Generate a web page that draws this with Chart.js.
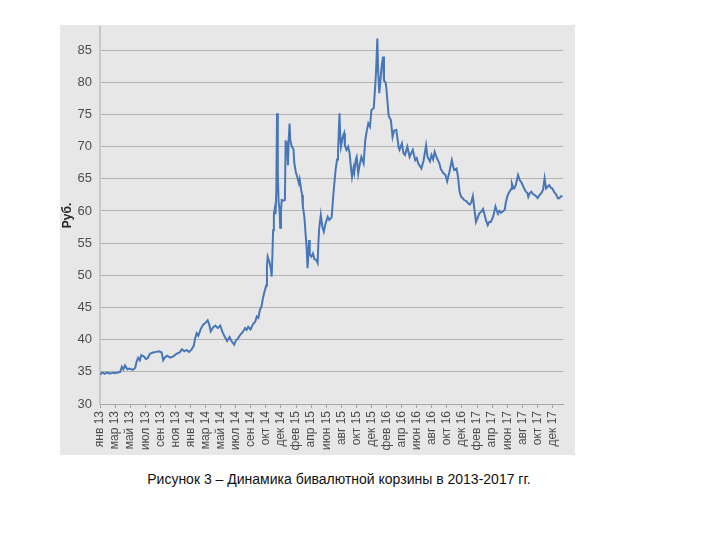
<!DOCTYPE html>
<html>
<head>
<meta charset="utf-8">
<script src="https://cdn.jsdelivr.net/npm/chart.js@4"></script>
<style>
  body { margin: 0; background: #fff; width: 720px; height: 540px; position: relative; font-family: "Liberation Sans", Arial, sans-serif; }
  #box { position: absolute; left: 60px; top: 25px; width: 515px; height: 430px; background: #e7e7e7; }
  #caption { position: absolute; left: 0; top: 469px; width: 678px; text-align: center; font-size: 14px; line-height: 20px; color: #111; }
</style>
</head>
<body>
<div id="box"><canvas id="chart" width="515" height="430"></canvas></div>
<div id="caption">Рисунок 3 – Динамика бивалютной корзины в 2013-2017 гг.</div>
<script>
// Axis labels (one per category step)
const xLabels = ['янв 13','мар 13','май 13','июл 13','сен 13','ноя 13','янв 14','мар 14','май 14','июл 14',
  'сен 14','окт 14','дек 14','фев 15','апр 15','июн 15','авг 15','окт 15','дек 15','фев 16',
  'апр 16','июн 16','авг 16','окт 16','дек 16','фев 17','апр 17','июн 17','авг 17','окт 17','дек 17'];

// Position along the axis, in label steps
const xPos = [0,0.16,0.31,0.47,0.67,0.83,0.98,1.19,1.34,1.45,1.55,1.66,1.81,1.97,2.17,2.33,2.43,2.53,2.64,2.74,
  2.90,3.05,3.16,3.31,3.52,3.72,3.93,4.09,4.19,4.29,4.45,4.65,4.86,5.07,5.28,5.43,5.59,5.74,5.90,6.05,
  6.21,6.31,6.41,6.52,6.67,6.83,6.98,7.14,7.24,7.34,7.50,7.65,7.81,7.97,8.12,8.28,8.43,8.59,8.74,8.90,
  9.00,9.15,9.31,9.47,9.62,9.72,9.83,9.98,10.14,10.29,10.40,10.50,10.60,10.71,10.81,10.91,11.02,11.07,11.12,11.22,
  11.33,11.38,11.43,11.48,11.53,11.59,11.64,11.69,11.74,11.79,11.84,11.90,11.95,12.00,12.05,12.15,12.26,12.31,12.36,12.41,
  12.46,12.52,12.57,12.62,12.72,12.83,12.88,12.98,13.09,13.19,13.24,13.34,13.40,13.45,13.55,13.60,13.71,13.76,13.81,13.86,
  13.91,14.02,14.12,14.22,14.33,14.43,14.48,14.53,14.64,14.74,14.84,14.95,15.10,15.21,15.36,15.46,15.52,15.62,15.72,15.78,
  15.83,15.88,15.93,15.98,16.09,16.19,16.24,16.34,16.45,16.55,16.65,16.71,16.81,16.86,16.96,17.02,17.12,17.22,17.33,17.48,
  17.59,17.69,17.79,17.90,18.00,18.15,18.26,18.31,18.39,18.44,18.52,18.62,18.67,18.77,18.83,18.93,18.98,19.09,19.14,19.29,
  19.40,19.50,19.65,19.71,19.81,19.86,20.02,20.12,20.22,20.38,20.53,20.64,20.74,20.90,21.00,21.10,21.31,21.46,21.62,21.72,
  21.88,21.98,22.09,22.19,22.34,22.50,22.60,22.76,22.91,23.02,23.17,23.33,23.43,23.48,23.64,23.74,23.84,23.95,24.05,24.15,
  24.31,24.41,24.52,24.62,24.72,24.83,24.93,25.03,25.14,25.29,25.40,25.50,25.60,25.71,25.81,25.91,26.07,26.22,26.33,26.38,
  26.48,26.58,26.74,26.84,26.90,27.00,27.10,27.15,27.26,27.31,27.41,27.46,27.57,27.62,27.72,27.83,27.93,28.03,28.14,28.24,
  28.34,28.40,28.50,28.60,28.71,28.81,28.91,29.02,29.12,29.27,29.38,29.48,29.58,29.69,29.79,29.90,30.00,30.10,30.26,30.36,
  30.46,30.57,30.67];

// Basket value, rub
const rub = [34.6,34.9,34.7,34.9,34.7,34.9,34.8,34.9,35.0,35.8,35.4,36.0,35.4,35.5,35.3,35.6,36.6,37.2,36.8,37.6,
  37.4,37.0,37.1,37.8,38.0,38.1,38.2,38.0,36.8,37.2,37.5,37.2,37.4,37.8,38.0,38.5,38.2,38.4,38.1,38.4,
  39.0,40.2,41.0,40.6,41.6,42.3,42.6,43.0,42.4,41.3,41.9,42.2,41.8,42.2,41.2,40.4,39.8,40.4,39.7,39.2,
  39.8,40.2,40.8,41.2,41.8,41.5,42.0,41.6,42.4,42.8,43.6,43.4,44.6,45.2,46.5,47.5,48.4,51.5,52.9,52.2,
  51.0,49.8,53.0,57.0,59.6,60.4,59.5,63.0,75.2,66.0,61.5,60.3,57.4,60.0,61.7,61.6,61.7,71.0,69.8,70.2,
  67.1,71.5,73.6,71.0,70.0,69.6,67.5,66.1,65.2,64.3,64.9,63.3,62.5,60.7,59.1,57.5,53.9,51.1,53.0,55.5,
  53.2,52.9,53.4,52.5,52.4,51.9,55.0,57.2,59.4,57.6,56.8,58.0,59.1,58.6,59.0,62.2,63.8,66.4,68.0,69.0,
  72.0,75.2,71.5,70.0,71.5,72.1,70.2,69.5,70.0,69.0,66.5,65.3,66.7,66.0,68.0,68.4,65.8,67.2,68.4,67.4,
  71.0,72.5,73.6,73.1,75.7,76.0,79.8,82.0,86.8,81.9,78.3,81.0,82.4,84.0,80.3,80.0,79.3,76.2,74.8,74.1,
  71.5,72.5,72.6,71.5,69.8,69.5,70.5,69.0,68.7,70.0,68.4,69.0,69.5,67.9,68.2,67.4,66.6,67.9,70.2,68.4,
  67.7,68.7,68.0,69.2,68.2,67.4,66.5,65.9,65.6,64.6,66.1,67.9,66.8,66.4,66.6,65.3,63.0,62.2,62.0,61.7,
  61.5,61.2,61.0,61.4,62.3,60.2,58.3,58.9,59.6,59.9,60.3,59.4,58.5,57.8,58.3,58.3,59.1,60.7,59.9,59.7,
  60.0,59.7,60.0,60.2,61.2,62.2,62.8,63.0,63.4,64.3,63.6,63.5,64.0,64.6,65.6,64.8,64.5,64.0,63.4,63.0,
  62.8,62.2,62.8,63.0,62.6,62.5,62.3,62.0,62.4,62.8,63.3,65.1,63.5,63.8,64.0,63.6,63.5,63.0,62.5,62.0,
  62.0,62.3,62.3];

const points = xPos.map((x, i) => ({ x: x, y: rub[i] }));

new Chart(document.getElementById('chart'), {
  type: 'line',
  data: {
    datasets: [{
      data: points,
      borderColor: '#4777b6',
      borderWidth: 2,
      pointRadius: 0,
      tension: 0,
      fill: false
    }]
  },
  options: {
    responsive: false,
    animation: false,
    layout: { padding: { top: 2, right: 12, left: 0, bottom: 0 } },
    plugins: { legend: { display: false }, tooltip: { enabled: false } },
    scales: {
      x: {
        type: 'linear',
        min: 0,
        max: 30.7,
        afterBuildTicks: s => { s.ticks = xLabels.map((_, i) => ({ value: i })); },
        afterFit: s => { s.height = 51; s.paddingLeft = 0; s.paddingRight = 0; },
        ticks: {
          autoSkip: false,
          minRotation: 90,
          maxRotation: 90,
          padding: 3,
          color: '#4d4d4d',
          font: { family: '"Liberation Sans", Arial, sans-serif', size: 12 },
          callback: v => xLabels[Math.round(v)]
        },
        grid: { drawOnChartArea: false, drawTicks: true, tickLength: 4, color: '#a6a6a6' },
        border: { color: '#a6a6a6' }
      },
      y: {
        min: 30,
        max: 88.6,
        afterBuildTicks: s => { s.ticks = s.ticks.filter(t => Math.abs(t.value % 5) < 0.001); },
        afterFit: s => { s.width = 40; s.paddingTop = 0; s.paddingBottom = 0; },
        ticks: {
          stepSize: 5,
          padding: 8,
          color: '#4d4d4d',
          font: { family: '"Liberation Sans", Arial, sans-serif', size: 13 }
        },
        grid: { color: '#b3b3b3', drawTicks: false },
        border: { color: '#c8c8c8', width: 2 },
        title: {
          display: true,
          text: 'Руб.',
          color: '#262626',
          padding: 0,
          font: { family: '"Liberation Sans", Arial, sans-serif', size: 12, weight: 'bold' }
        }
      }
    }
  }
});
</script>
</body>
</html>
